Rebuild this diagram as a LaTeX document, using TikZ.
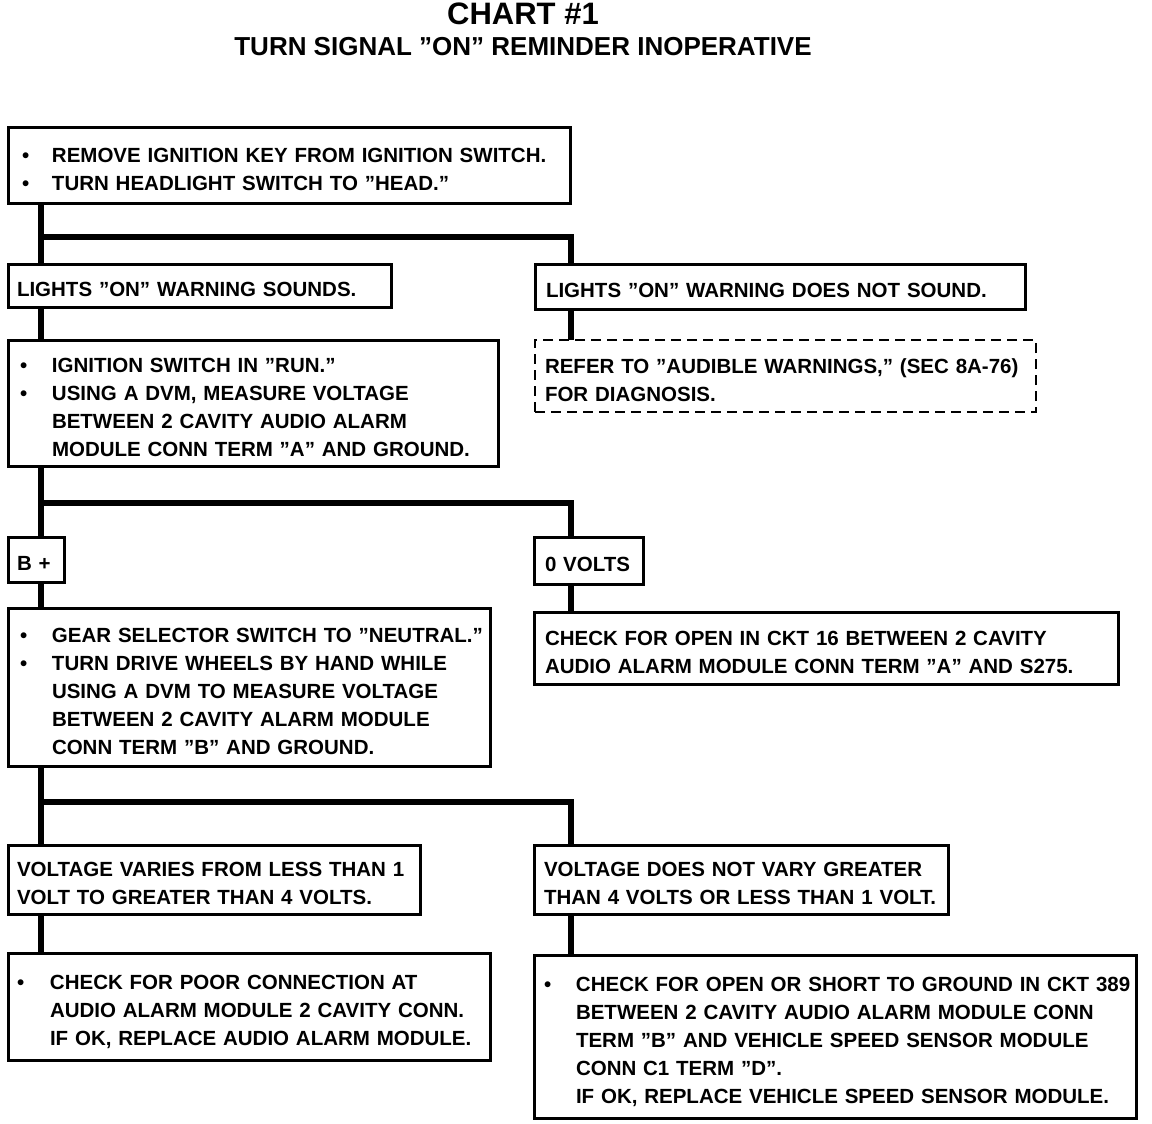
\documentclass[tikz,border=0pt]{standalone}
\usepackage{fontspec}
\setmainfont{Liberation Sans}
\newcommand\bul[1][30pt]{\makebox[#1][l]{\textbullet}}
\newcommand\ind[1][30pt]{\hspace*{#1}}
\newcommand\bx[1]{\raisebox{-5.5pt}[\height][\depth]{\begin{tabular}{@{}l@{}}#1\end{tabular}}}
\begin{document}
\begin{tikzpicture}[x=1pt,y=-1pt,
  box/.style={draw,line width=3pt,anchor=north west,align=left,outer sep=0pt,inner ysep=0pt,
    font=\bfseries\fontsize{20.5}{28}\selectfont},
  dbox/.style={box,line width=2.5pt,dash pattern=on 10pt off 6pt},
  conn/.style={line width=6pt},
  ttl/.style={font=\bfseries\fontsize{31}{31}\selectfont,inner sep=0pt},
  sub/.style={font=\bfseries\fontsize{26}{26}\selectfont,inner sep=0pt}]
\useasboundingbox (0,0) rectangle (1152,1124);
\fill[white] (0,0) rectangle (1152,1124);

\node[ttl] (t1) at (523,14) {CHART \#1};
\node[sub] (t2) at (523,47) {TURN SIGNAL "ON" REMINDER INOPERATIVE};

\node[box,inner xsep=14pt,text width=534pt,minimum height=76pt] (A) at (8,127)
  {\bx{\bul REMOVE IGNITION KEY FROM IGNITION SWITCH.\\\bul TURN HEADLIGHT SWITCH TO "HEAD."}};
\node[box,inner xsep=9pt,text width=365pt,minimum height=43pt] (B) at (8,264)
  {\bx{LIGHTS "ON" WARNING SOUNDS.}};
\node[box,inner xsep=11pt,text width=468pt,minimum height=45pt] (C) at (535,264)
  {\bx{LIGHTS "ON" WARNING DOES NOT SOUND.}};
\node[dbox,inner xsep=10pt,text width=481pt,minimum height=72pt] (D) at (535,340)
  {\bx{REFER TO "AUDIBLE WARNINGS," (SEC 8A-76)\\FOR DIAGNOSIS.}};
\node[box,inner xsep=12pt,text width=466pt,minimum height=126pt] (E) at (8,340)
  {\bx{\bul[32pt]IGNITION SWITCH IN "RUN."\\\bul[32pt]USING A DVM, MEASURE VOLTAGE\\\ind[32pt]BETWEEN 2 CAVITY AUDIO ALARM\\\ind[32pt]MODULE CONN TERM "A" AND GROUND.}};
\node[box,inner xsep=9pt,text width=38pt,minimum height=45pt] (Bp) at (8,537) {\bx{B +}};
\node[box,inner xsep=11pt,text width=87pt,minimum height=47pt] (Z) at (534,537) {\bx{0 VOLTS}};
\node[box,inner xsep=12pt,text width=458pt,minimum height=158pt] (F) at (8,608)
  {\bx{\bul[32pt]GEAR SELECTOR SWITCH TO "NEUTRAL."\\\bul[32pt]TURN DRIVE WHEELS BY HAND WHILE\\\ind[32pt]USING A DVM TO MEASURE VOLTAGE\\\ind[32pt]BETWEEN 2 CAVITY ALARM MODULE\\\ind[32pt]CONN TERM "B" AND GROUND.}};
\node[box,inner xsep=11pt,text width=562pt,minimum height=72pt] (G) at (534,612)
  {\bx{CHECK FOR OPEN IN CKT 16 BETWEEN 2 CAVITY\\AUDIO ALARM MODULE CONN TERM "A" AND S275.}};
\node[box,inner xsep=9pt,text width=394pt,minimum height=69pt] (H) at (8,845)
  {\bx{VOLTAGE VARIES FROM LESS THAN 1\\VOLT TO GREATER THAN 4 VOLTS.}};
\node[box,inner xsep=10pt,text width=394pt,minimum height=69pt] (I) at (534,845)
  {\bx{VOLTAGE DOES NOT VARY GREATER\\THAN 4 VOLTS OR LESS THAN 1 VOLT.}};
\node[box,inner xsep=9pt,text width=464pt,minimum height=107pt] (J) at (8,953)
  {\bx{\bul[33pt]CHECK FOR POOR CONNECTION AT\\\ind[33pt]AUDIO ALARM MODULE 2 CAVITY CONN.\\\ind[33pt]IF OK, REPLACE AUDIO ALARM MODULE.}};
\node[box,inner xsep=10pt,text width=582pt,minimum height=163pt] (K) at (534,955)
  {\bx{\bul[32pt]CHECK FOR OPEN OR SHORT TO GROUND IN CKT 389\\\ind[32pt]BETWEEN 2 CAVITY AUDIO ALARM MODULE CONN\\\ind[32pt]TERM "B" AND VEHICLE SPEED SENSOR MODULE\\\ind[32pt]CONN C1 TERM "D".\\\ind[32pt]IF OK, REPLACE VEHICLE SPEED SENSOR MODULE.}};

\coordinate (L1) at (41,237); \coordinate (R1) at (571,237);
\coordinate (L2) at (41,503); \coordinate (R2) at (571,503);
\coordinate (L3) at (41,802); \coordinate (R3) at (571,802);

\draw[conn] (A.south -| L1) -- (B.north -| L1);
\draw[conn] (L1) -- (R1) -- (C.north -| R1);
\draw[conn] (C.south -| R1) -- (D.north -| R1);
\draw[conn] (B.south -| L1) -- (E.north -| L1);
\draw[conn] (E.south -| L2) -- (Bp.north -| L2);
\draw[conn] (L2) -- (R2) -- (Z.north -| R2);
\draw[conn] (Bp.south -| L2) -- (F.north -| L2);
\draw[conn] (Z.south -| R2) -- (G.north -| R2);
\draw[conn] (F.south -| L3) -- (H.north -| L3);
\draw[conn] (L3) -- (R3) -- (I.north -| R3);
\draw[conn] (H.south -| L3) -- (J.north -| L3);
\draw[conn] (I.south -| R3) -- (K.north -| R3);
\end{tikzpicture}
\end{document}
